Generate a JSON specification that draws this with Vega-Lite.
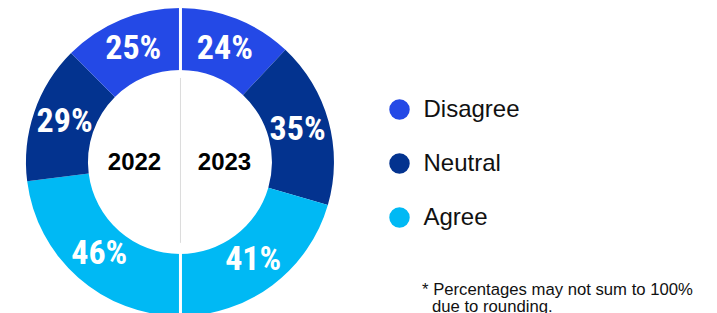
{
  "$schema": "https://vega.github.io/schema/vega-lite/v6.json",
  "width": 717,
  "height": 313,
  "padding": 0,
  "autosize": {"type": "none"},
  "config": {"view": {"stroke": null}},
  "data": {"values": [
    {"year": "2023", "resp": "Disagree", "v": 0.24, "k": 1},
    {"year": "2023", "resp": "Neutral", "v": 0.35, "k": 2},
    {"year": "2023", "resp": "Agree", "v": 0.41, "k": 3},
    {"year": "2022", "resp": "Agree", "v": 0.46, "k": 4},
    {"year": "2022", "resp": "Neutral", "v": 0.29, "k": 5},
    {"year": "2022", "resp": "Disagree", "v": 0.25, "k": 6}
  ]},
  "layer": [
    {
      "mark": {"type": "arc", "outerRadius": 154, "innerRadius": 92},
      "encoding": {
        "theta": {"field": "v", "type": "quantitative", "stack": true},
        "order": {"field": "k", "type": "quantitative"},
        "color": {
          "field": "resp", "type": "nominal",
          "scale": {"domain": ["Disagree", "Neutral", "Agree"], "range": ["#2449E6", "#03338F", "#00B9F4"]},
          "legend": {
            "orient": "none", "legendX": 387.5, "legendY": 97.5, "title": null,
            "symbolType": "circle", "symbolSize": 420, "symbolStrokeWidth": 0,
            "labelFontSize": 24, "labelFont": "Liberation Sans", "labelColor": "#111111",
            "rowPadding": 30, "labelOffset": 12, "padding": 0
          }
        },
        "x": {"datum": 25.1, "type": "quantitative", "scale": {"domain": [0, 100]}, "axis": null},
        "y": {"datum": 51.76, "type": "quantitative", "scale": {"domain": [0, 100], "reverse": true}, "axis": null}
      }
    },
    {
      "data": {"values": [{}]},
      "mark": {"type": "rule", "color": "white", "strokeWidth": 3},
      "encoding": {
        "x": {"datum": 25.17, "type": "quantitative"},
        "y": {"datum": 0, "type": "quantitative"},
        "y2": {"datum": 100}
      }
    },
    {
      "data": {"values": [{}]},
      "mark": {"type": "rule", "color": "#dcdcdc", "strokeWidth": 1},
      "encoding": {
        "x": {"datum": 25.17, "type": "quantitative"},
        "y": {"datum": 24.9, "type": "quantitative"},
        "y2": {"datum": 77.6}
      }
    },
    {
      "mark": {"type": "text", "radius": 122, "color": "white", "font": "Roboto Condensed, DejaVu Sans Condensed, sans-serif", "fontWeight": "bold", "fontSize": 34, "align": "center", "baseline": "middle"},
      "encoding": {
        "theta": {"field": "v", "type": "quantitative", "stack": true},
        "order": {"field": "k", "type": "quantitative"},
        "text": {"field": "v", "type": "quantitative", "format": ".0%"},
        "x": {"datum": 25.1, "type": "quantitative"},
        "y": {"datum": 51.76, "type": "quantitative"}
      }
    },
    {
      "data": {"values": [{"year": "2022"}]},
      "mark": {"type": "text", "font": "Liberation Sans", "fontWeight": "bold", "fontSize": 24, "color": "#000000", "align": "center", "baseline": "alphabetic"},
      "encoding": {
        "text": {"field": "year", "type": "nominal"},
        "x": {"datum": 18.76, "type": "quantitative"},
        "y": {"datum": 54.3, "type": "quantitative"}
      }
    },
    {
      "data": {"values": [{"year": "2023"}]},
      "mark": {"type": "text", "font": "Liberation Sans", "fontWeight": "bold", "fontSize": 24, "color": "#000000", "align": "center", "baseline": "alphabetic"},
      "encoding": {
        "text": {"field": "year", "type": "nominal"},
        "x": {"datum": 31.31, "type": "quantitative"},
        "y": {"datum": 54.3, "type": "quantitative"}
      }
    },
    {
      "data": {"values": [{"note": "* Percentages may not sum to 100%"}]},
      "mark": {"type": "text", "font": "Liberation Sans", "fontSize": 16.7, "color": "#111111", "align": "left", "baseline": "alphabetic"},
      "encoding": {
        "text": {"field": "note", "type": "nominal"},
        "x": {"datum": 58.86, "type": "quantitative"},
        "y": {"datum": 94.4, "type": "quantitative"}
      }
    },
    {
      "data": {"values": [{"note": "due to rounding."}]},
      "mark": {"type": "text", "font": "Liberation Sans", "fontSize": 16.7, "color": "#111111", "align": "left", "baseline": "alphabetic"},
      "encoding": {
        "text": {"field": "note", "type": "nominal"},
        "x": {"datum": 60.25, "type": "quantitative"},
        "y": {"datum": 99.7, "type": "quantitative"}
      }
    }
  ]
}
